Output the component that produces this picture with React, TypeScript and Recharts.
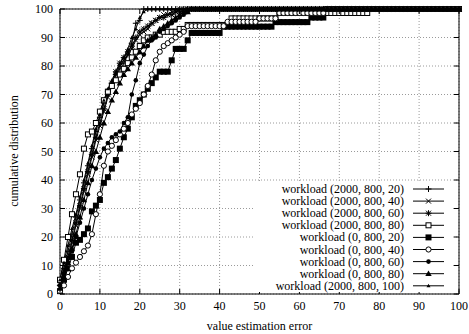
import React from 'react';
import { LineChart, Line, XAxis, YAxis, CartesianGrid, ReferenceArea } from 'recharts';

// ---- data ----
const xValues = [
  0, 1, 2, 3, 4, 5, 6, 7, 8, 9, 10, 11, 12, 13, 14, 15, 16, 17, 18, 19, 20,
  21, 22, 23, 24, 25, 26, 27, 28, 29, 30, 31, 32, 33, 34, 35, 36, 37, 38, 39, 40,
  41, 42, 43, 44, 45, 46, 47, 48, 49, 50, 51, 52, 53, 54, 55, 56, 57, 58, 59, 60,
  61, 62, 63, 64, 65, 66, 67, 68, 69, 70, 71, 72, 73, 74, 75, 76, 77, 78, 79, 80,
  81, 82, 83, 84, 85, 86, 87, 88, 89, 90, 91, 92, 93, 94, 95, 96, 97, 98, 99, 100,
];
const xTicks = [0, 10, 20, 30, 40, 50, 60, 70, 80, 90, 100];
const yTicks = [0, 10, 20, 30, 40, 50, 60, 70, 80, 90, 100];

const seriesLabels = [
  'workload (2000, 800, 20)',
  'workload (2000, 800, 40)',
  'workload (2000, 800, 60)',
  'workload (2000, 800, 80)',
  'workload (0, 800, 20)',
  'workload (0, 800, 40)',
  'workload (0, 800, 60)',
  'workload (0, 800, 80)',
  'workload (2000, 800, 100)',
];

const w2000_20 = [
  3, 9, 15, 21, 27, 33, 39, 45, 51, 57, 62, 67, 71, 74, 77, 79, 81, 84, 88, 95, 96,
  100, 100, 100, 100, 100, 100, 100, 100, 100, 100, 100, 100, 100, 100, 100, 100, 100, 100, 100, 100,
  100, 100, 100, 100, 100, 100, 100, 100, 100, 100, 100, 100, 100, 100, 100, 100, 100, 100, 100, 100,
  100, 100, 100, 100, 100, 100, 100, 100, 100, 100, 100, 100, 100, 100, 100, 100, 100, 100, 100, 100,
  100, 100, 100, 100, 100, 100, 100, 100, 100, 100, 100, 100, 100, 100, 100, 100, 100, 100, 100, 100,
];
const w2000_40 = [
  2, 7, 12, 18, 24, 30, 36, 42, 48, 54, 59, 64, 69, 73, 77, 80, 82, 84, 86, 89, 91,
  92, 93, 95, 96, 97, 98, 98, 99, 99, 100, 100, 100, 100, 100, 100, 100, 100, 100, 100, 100,
  100, 100, 100, 100, 100, 100, 100, 100, 100, 100, 100, 100, 100, 100, 100, 100, 100, 100, 100, 100,
  100, 100, 100, 100, 100, 100, 100, 100, 100, 100, 100, 100, 100, 100, 100, 100, 100, 100, 100, 100,
  100, 100, 100, 100, 100, 100, 100, 100, 100, 100, 100, 100, 100, 100, 100, 100, 100, 100, 100, 100,
];
const w2000_60 = [
  4, 8, 13, 19, 25, 31, 37, 43, 49, 55, 60, 65, 70, 74, 78, 81, 83, 85, 87, 90, 92,
  93, 94, 95, 96, 97, 97, 98, 98, 99, 99, 99, 100, 100, 100, 100, 100, 100, 100, 100, 100,
  100, 100, 100, 100, 100, 100, 100, 100, 100, 100, 100, 100, 100, 100, 100, 100, 100, 100, 100, 100,
  100, 100, 100, 100, 100, 100, 100, 100, 100, 100, 100, 100, 100, 100, 100, 100, 100, 100, 100, 100,
  100, 100, 100, 100, 100, 100, 100, 100, 100, 100, 100, 100, 100, 100, 100, 100, 100, 100, 100, 100,
];
const w2000_80 = [
  5, 12, 20, 28, 35, 42, 51, 56, 57, 60, 64, 68, 71, 73, 75, 77, 79, 81, 83, 85, 87,
  89, 90, 90, 91, 91, 92, 92, 92, 92, 93, 93, 94.4, 94.4, 94.4, 94.4, 94.4, 94.4, 94.4, 94.4, 94.4,
  94.4, 94.4, 96.7, 96.7, 96.7, 96.7, 96.7, 96.7, 96.7, 96.7, 96.7, 96.7, 96.7, 96.7, 98.6, 98.6, 98.6, 98.6, 98.6, 98.6,
  98.6, 98.6, 98.6, 98.6, 98.6, 98.6, 98.6, 98.6, 98.6, 98.6, 98.6, 98.6, 98.6, 98.6, 98.6, 98.6, 98.6, 100, 100, 100,
  100, 100, 100, 100, 100, 100, 100, 100, 100, 100, 100, 100, 100, 100, 100, 100, 100, 100, 100, 100,
];
const w0_20 = [
  1, 5, 9, 13, 18, 19, 21, 23, 29, 31, 33, 39, 41, 44, 47, 51, 55, 58, 62, 66, 68,
  70, 72, 74, 76, 78, 78, 78, 82, 86, 86, 86, 89, 91.6, 91.6, 91.6, 91.6, 91.6, 91.6, 91.6, 91.6,
  93.8, 93.8, 93.8, 93.8, 93.8, 93.8, 93.8, 93.8, 93.8, 93.8, 93.8, 93.8, 93.8, 95.4, 95.4, 95.4, 95.4, 95.4, 95.4, 95.4,
  95.4, 95.4, 97, 97, 97, 97, 100, 100, 100, 100, 100, 100, 100, 100, 100, 100, 100, 100, 100, 100,
  100, 100, 100, 100, 100, 100, 100, 100, 100, 100, 100, 100, 100, 100, 100, 100, 100, 100, 100, 100,
];
const w0_40 = [
  1, 3, 6, 9, 11, 13, 15, 17, 21, 28, 35, 45, 50, 52, 54, 56, 58, 60, 63, 65, 67,
  70, 73, 77, 82, 85, 87, 88, 89, 90, 91, 92, 94, 94, 94, 94, 94, 94, 94, 94, 94,
  94, 95.5, 95.5, 95.5, 95.5, 95.5, 95.5, 95.5, 95.5, 96.7, 96.7, 96.7, 96.7, 96.7, 98.6, 98.6, 98.6, 98.6, 98.6, 98.6,
  98.6, 98.6, 98.6, 98.6, 98.6, 98.6, 100, 100, 100, 100, 100, 100, 100, 100, 100, 100, 100, 100, 100, 100,
  100, 100, 100, 100, 100, 100, 100, 100, 100, 100, 100, 100, 100, 100, 100, 100, 100, 100, 100, 100,
];
const w0_60 = [
  3, 7, 11, 15, 20, 25, 30, 35, 40, 44, 48, 51, 53, 55, 56, 57, 60, 62, 70, 75, 81,
  84, 87, 89, 90, 92, 93, 94, 95, 96, 97, 98, 99, 100, 100, 100, 100, 100, 100, 100, 100,
  100, 100, 100, 100, 100, 100, 100, 100, 100, 100, 100, 100, 100, 100, 100, 100, 100, 100, 100, 100,
  100, 100, 100, 100, 100, 100, 100, 100, 100, 100, 100, 100, 100, 100, 100, 100, 100, 100, 100, 100,
  100, 100, 100, 100, 100, 100, 100, 100, 100, 100, 100, 100, 100, 100, 100, 100, 100, 100, 100, 100,
];
const w0_80 = [
  2, 6, 11, 16, 21, 27, 33, 39, 45, 50, 55, 60, 64, 68, 71, 74, 77, 79, 81, 83, 85,
  87, 89, 90, 91, 93, 94, 95, 96, 97, 98, 99, 99, 100, 100, 100, 100, 100, 100, 100, 100,
  100, 100, 100, 100, 100, 100, 100, 100, 100, 100, 100, 100, 100, 100, 100, 100, 100, 100, 100, 100,
  100, 100, 100, 100, 100, 100, 100, 100, 100, 100, 100, 100, 100, 100, 100, 100, 100, 100, 100, 100,
  100, 100, 100, 100, 100, 100, 100, 100, 100, 100, 100, 100, 100, 100, 100, 100, 100, 100, 100, 100,
];
const w2000_100 = [
  5, 11, 17, 23, 28, 34, 40, 46, 52, 58, 63, 68, 72, 75, 78, 81, 83, 86, 90, 93, 97,
  99, 100, 100, 100, 100, 100, 100, 100, 100, 100, 100, 100, 100, 100, 100, 100, 100, 100, 100, 100,
  100, 100, 100, 100, 100, 100, 100, 100, 100, 100, 100, 100, 100, 100, 100, 100, 100, 100, 100, 100,
  100, 100, 100, 100, 100, 100, 100, 100, 100, 100, 100, 100, 100, 100, 100, 100, 100, 100, 100, 100,
  100, 100, 100, 100, 100, 100, 100, 100, 100, 100, 100, 100, 100, 100, 100, 100, 100, 100, 100, 100,
];

const seriesValues = [w2000_20, w2000_40, w2000_60, w2000_80, w0_20, w0_40, w0_60, w0_80, w2000_100];
const markerKinds = [
  'plus', 'cross', 'star', 'openSquare', 'filledSquare', 'openCircle', 'filledCircle', 'triangle', 'smallTriangle',
];

const data = xValues.map((x, i) => {
  const row: Record<string, number> = { x };
  seriesValues.forEach((s, k) => {
    row['s' + k] = s[i];
  });
  return row;
});

// ---- layout ----
const W = 469;
const H = 334;
const PLOT_LEFT = 60;
const PLOT_RIGHT = 459;
const PLOT_TOP = 9;
const PLOT_BOTTOM = 294;
const TEXT_STYLE = { fontFamily: 'Liberation Serif, DejaVu Serif, Times New Roman, serif', fontSize: 12 };
const TICK = 5;

function Marker({ kind, cx, cy }: { kind: string; cx: number; cy: number }) {
  const s = { stroke: '#000', strokeWidth: 1 };
  switch (kind) {
    case 'plus':
      return (
        <g {...s}>
          <line x1={cx - 3} x2={cx + 3} y1={cy} y2={cy} />
          <line x1={cx} x2={cx} y1={cy - 3} y2={cy + 3} />
        </g>
      );
    case 'cross':
      return (
        <g {...s}>
          <line x1={cx - 2.5} x2={cx + 2.5} y1={cy - 2.5} y2={cy + 2.5} />
          <line x1={cx - 2.5} x2={cx + 2.5} y1={cy + 2.5} y2={cy - 2.5} />
        </g>
      );
    case 'star':
      return (
        <g {...s}>
          <line x1={cx - 3} x2={cx + 3} y1={cy} y2={cy} />
          <line x1={cx} x2={cx} y1={cy - 3} y2={cy + 3} />
          <line x1={cx - 2.5} x2={cx + 2.5} y1={cy - 2.5} y2={cy + 2.5} />
          <line x1={cx - 2.5} x2={cx + 2.5} y1={cy + 2.5} y2={cy - 2.5} />
        </g>
      );
    case 'openSquare':
      return <rect x={cx - 2.5} y={cy - 2.5} width={5} height={5} fill="#fff" {...s} />;
    case 'filledSquare':
      return <rect x={cx - 3} y={cy - 3} width={6} height={6} fill="#000" />;
    case 'openCircle':
      return <circle cx={cx} cy={cy} r={2.6} fill="#fff" {...s} />;
    case 'filledCircle':
      return <circle cx={cx} cy={cy} r={2.3} fill="#000" />;
    case 'triangle':
      return <path d={`M${cx},${cy - 3.2} L${cx + 3.2},${cy + 2.4} L${cx - 3.2},${cy + 2.4} Z`} fill="#000" />;
    case 'smallTriangle':
    default:
      return <path d={`M${cx},${cy - 2} L${cx + 2},${cy + 1.5} L${cx - 2},${cy + 1.5} Z`} fill="#000" />;
  }
}

function makeDot(kind: string) {
  return (p: any) => {
    const key = `${kind}-${p.index}`;
    if (p.cx == null || p.cy == null) return <g key={key} />;
    return (
      <g key={key}>
        <Marker kind={kind} cx={p.cx} cy={p.cy} />
      </g>
    );
  };
}

function XTick(p: any) {
  const { x, y, payload } = p;
  return (
    <g>
      <line x1={x} x2={x} y1={y} y2={y - TICK} stroke="#000" />
      <line x1={x} x2={x} y1={PLOT_TOP} y2={PLOT_TOP + TICK} stroke="#000" />
      <text x={x} y={y + 16} textAnchor="middle" style={TEXT_STYLE} fill="#000">
        {payload.value}
      </text>
    </g>
  );
}

function YTick(p: any) {
  const { x, y, payload } = p;
  return (
    <g>
      <line x1={x} x2={x + TICK} y1={y} y2={y} stroke="#000" />
      <line x1={PLOT_RIGHT - TICK} x2={PLOT_RIGHT} y1={y} y2={y} stroke="#000" />
      <text x={x - 7} y={y + 4} textAnchor="end" style={TEXT_STYLE} fill="#000">
        {payload.value}
      </text>
    </g>
  );
}

export default function App() {
  const legendTop = 189;
  const legendStep = 12.1;
  return (
    <div style={{ position: 'absolute', left: 0, top: 0, width: W, height: H, background: '#fff' }}>
      <LineChart
        width={W}
        height={H}
        data={data}
        margin={{ top: PLOT_TOP, right: W - PLOT_RIGHT, bottom: 0, left: 0 }}
      >
        <CartesianGrid stroke="#9a9a9a" strokeDasharray="1 2" />
        <XAxis
          dataKey="x"
          type="number"
          domain={[0, 100]}
          ticks={xTicks}
          interval={0}
          height={H - PLOT_BOTTOM}
          tickSize={0}
          tickMargin={0}
          axisLine={false}
          tickLine={false}
          tick={XTick}
        />
        <YAxis
          type="number"
          domain={[0, 100]}
          ticks={yTicks}
          interval={0}
          width={PLOT_LEFT}
          tickSize={0}
          tickMargin={0}
          axisLine={false}
          tickLine={false}
          tick={YTick}
        />
        {seriesValues.map((_, k) => (
          <Line
            key={k}
            dataKey={'s' + k}
            type="linear"
            stroke="#000"
            strokeWidth={1}
            dot={makeDot(markerKinds[k])}
            activeDot={false}
            isAnimationActive={false}
          />
        ))}
        <ReferenceArea x1={0} x2={100} y1={0} y2={100} fill="none" stroke="#000" strokeWidth={1} ifOverflow="visible" />
      </LineChart>
      <svg
        width={W}
        height={H}
        style={{ position: 'absolute', left: 0, top: 0, pointerEvents: 'none' }}
      >
        <rect x={254} y={181} width={198} height={111} fill="#fff" />
        {seriesLabels.map((label, i) => {
          const y = legendTop + i * legendStep;
          return (
            <g key={label}>
              <text x={404} y={y + 4} textAnchor="end" style={TEXT_STYLE} fill="#000">
                {label}
              </text>
              <line x1={413} x2={444} y1={y} y2={y} stroke="#000" strokeWidth={1} />
              <Marker kind={markerKinds[i]} cx={428.5} cy={y} />
            </g>
          );
        })}
        <text
          x={14}
          y={151}
          transform="rotate(-90 14 151)"
          textAnchor="middle"
          dominantBaseline="central"
          style={TEXT_STYLE}
          fill="#000"
        >
          cumulative distribution
        </text>
        <text x={259.5} y={330} textAnchor="middle" style={TEXT_STYLE} fill="#000">
          value estimation error
        </text>
      </svg>
    </div>
  );
}
